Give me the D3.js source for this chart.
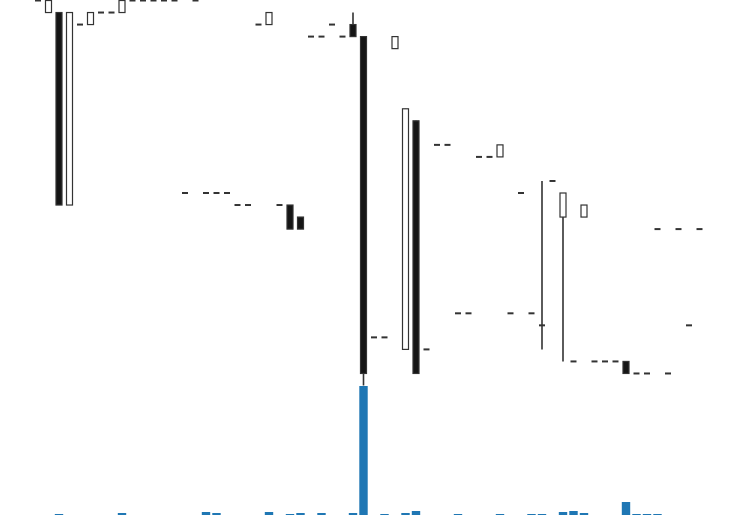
<!DOCTYPE html>
<html>
<head>
<meta charset="utf-8">
<script src="https://cdn.jsdelivr.net/npm/d3@7"></script>
<style>
  html, body { margin: 0; padding: 0; background: #fff; }
  svg { display: block; }
</style>
</head>
<body>
<svg id="chart" width="737" height="515"></svg>
<script>
// ---- data ----
const open  = [4.20,4.19,4.19,4.03,4.18,4.18,4.19,4.19,4.19,4.20,4.20,4.20,4.20,4.20,4.04,4.20,
               4.04,4.04,4.04,4.03,4.03,4.18,4.18,4.03,4.03,4.02,4.17,4.17,4.18,4.17,4.18,4.17,
               3.92,3.92,4.16,3.91,4.10,3.91,4.08,4.08,3.94,3.94,4.07,4.07,4.07,3.94,4.04,3.94,
               3.93,4.05,4.02,3.90,4.02,3.90,3.90,3.90,3.90,3.89,3.89,4.01,3.89,4.01,3.93,4.01];
const high  = [4.20,4.20,4.19,4.19,4.18,4.19,4.19,4.19,4.20,4.20,4.20,4.20,4.20,4.20,4.04,4.20,
               4.04,4.04,4.04,4.03,4.03,4.18,4.19,4.03,4.03,4.02,4.17,4.17,4.18,4.17,4.19,4.17,
               3.92,3.92,4.17,4.11,4.10,3.91,4.08,4.08,3.94,3.94,4.07,4.07,4.08,3.94,4.04,3.94,
               4.05,4.05,4.04,3.90,4.03,3.90,3.90,3.90,3.90,3.89,3.89,4.01,3.89,4.01,3.93,4.01];
const low   = [4.20,4.19,4.03,4.03,4.18,4.18,4.19,4.19,4.19,4.20,4.20,4.20,4.20,4.20,4.04,4.20,
               4.04,4.04,4.04,4.03,4.03,4.18,4.18,4.03,4.01,4.01,4.17,4.17,4.18,4.17,4.17,3.88,
               3.92,3.92,4.16,3.91,3.89,3.91,4.08,4.08,3.94,3.94,4.07,4.07,4.07,3.94,4.04,3.94,
               3.91,4.05,3.90,3.90,4.02,3.90,3.90,3.90,3.89,3.89,3.89,4.01,3.89,4.01,3.93,4.01];
const close = [4.20,4.20,4.03,4.19,4.18,4.19,4.19,4.19,4.20,4.20,4.20,4.20,4.20,4.20,4.04,4.20,
               4.04,4.04,4.04,4.03,4.03,4.18,4.19,4.03,4.01,4.01,4.17,4.17,4.18,4.17,4.17,3.89,
               3.92,3.92,4.17,4.11,3.89,3.91,4.08,4.08,3.94,3.94,4.07,4.07,4.08,3.94,4.04,3.94,
               3.93,4.05,4.04,3.90,4.03,3.90,3.90,3.90,3.89,3.89,3.89,4.01,3.89,4.01,3.93,4.01];
const volume = [0,0,40,0,0,0,0,0,80,0,0,0,0,0,0,0,
                120,80,0,0,0,0,120,0,40,80,0,80,0,0,80,5160,
                0,40,0,80,160,0,0,0,40,0,0,0,40,0,0,40,
                40,0,120,160,80,0,0,0,520,40,40,40,0,0,0,0];

// ---- drawing ----
const svg = d3.select("#chart");
const n = open.length;
const data = d3.range(n).map(i => ({i, o: open[i], h: high[i], l: low[i], c: close[i], v: volume[i]}));

const x = d3.scaleLinear().domain([0, n - 1]).range([38, 699.5]);
const y = d3.scaleLinear().domain([3.88, 4.20]).range([385.5, 0.5]);
const yv = d3.scaleLinear().domain([0, d3.max(volume)]).range([515, 386]);

const edge = "#333333";
const bodyW = 6;
const volW = 8.4;

// volume
svg.append("g").selectAll("rect").data(data.filter(d => d.v > 0)).join("rect")
  .attr("x", d => x(d.i) - volW / 2)
  .attr("width", volW)
  .attr("y", d => yv(d.v))
  .attr("height", d => yv(0) - yv(d.v))
  .attr("fill", "#1f77b4");

const g = svg.append("g");
// wicks
g.selectAll("line.wick").data(data.filter(d => d.h !== d.l)).join("line")
  .attr("class", "wick")
  .attr("x1", d => x(d.i)).attr("x2", d => x(d.i))
  .attr("y1", d => y(d.h)).attr("y2", d => y(d.l))
  .attr("stroke", edge).attr("stroke-width", 1.6);

// bodies
g.selectAll("rect.body").data(data.filter(d => d.o !== d.c)).join("rect")
  .attr("class", "body")
  .attr("x", d => x(d.i) - bodyW / 2)
  .attr("width", bodyW)
  .attr("y", d => y(Math.max(d.o, d.c)))
  .attr("height", d => Math.abs(y(d.o) - y(d.c)))
  .attr("fill", d => d.c > d.o ? "#ffffff" : "#151515")
  .attr("stroke", edge).attr("stroke-width", 1.2);

// doji
g.selectAll("line.doji").data(data.filter(d => d.o === d.c)).join("line")
  .attr("class", "doji")
  .attr("x1", d => x(d.i) - bodyW / 2).attr("x2", d => x(d.i) + bodyW / 2)
  .attr("y1", d => y(d.o)).attr("y2", d => y(d.o))
  .attr("stroke", edge).attr("stroke-width", 2);
</script>
</body>
</html>
